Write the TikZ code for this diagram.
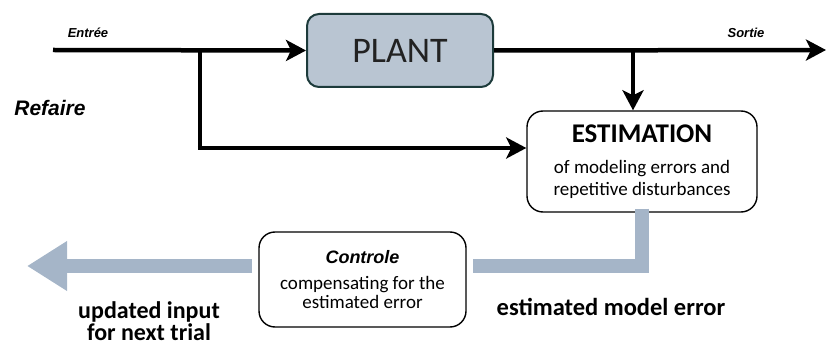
\documentclass[tikz,border=0pt]{standalone}
\usepackage{fontspec}
\setmainfont{Carlito}
\newfontfamily\arialf{Liberation Sans}
\usetikzlibrary{arrows.meta,calc}
\definecolor{plantfill}{HTML}{B9C5D2}
\definecolor{plantdraw}{HTML}{1D3B3B}
\definecolor{flowgray}{HTML}{A5B5C8}
\tikzset{
  blk/.style={line width=4.5pt,-{Stealth[length=20pt,width=21pt,inset=5pt]}},
  blkline/.style={line width=4.5pt},
  plantbox/.style={draw=plantdraw,fill=plantfill,line width=2pt,rounded corners=12pt,minimum width=186pt,minimum height=73pt,inner sep=0pt},
  rbox/.style={draw=black,line width=1.4pt,rounded corners=16pt,align=center,inner sep=0pt},
  gline/.style={draw=flowgray,line width=14pt,line cap=butt,line join=miter},
  tagf/.style={inner sep=0pt},
  lbl/.style={align=center,inner sep=0pt}
}
\begin{document}
\begin{tikzpicture}[x=1pt,y=-1pt]
\useasboundingbox (0,0) rectangle (826,347);
% nodes
\node[plantbox] (plant) at (400,50.5) {\fontsize{36}{40}\selectfont\color[HTML]{222222}PLANT};
\node[rbox,minimum width=230pt,minimum height=101pt,font=\fontsize{19}{22}\selectfont] (est) at (642,161.5)
  {{\fontsize{27}{28}\selectfont\bfseries ESTIMATION}\\[9pt]
   of modeling errors and\\
   repetitive disturbances};
\node[rbox,minimum width=207pt,minimum height=95pt,font=\fontsize{19}{18.5}\selectfont] (ctl) at (362.5,279.5)
  {{\arialf\bfseries\itshape\fontsize{18}{20}\selectfont Controle}\\[8pt]
   compensating for the\\
   estimated error};
% labels
\node[tagf,font=\arialf\bfseries\itshape\fontsize{13}{15}\selectfont] (entree) at (88,33) {Entrée};
\node[tagf,font=\arialf\bfseries\itshape\fontsize{13}{15}\selectfont] (sortie) at (746,33) {Sortie};
\node[tagf,font=\arialf\bfseries\itshape\fontsize{21}{24}\selectfont] (refaire) at (50,108) {Refaire};
\node[lbl,font=\bfseries\fontsize{24.5}{26}\selectfont] (eme) at (611,307) {estimated model error};
\node[lbl,font=\bfseries\fontsize{24}{22}\selectfont] (upd) at (149,321.5) {updated input\\for next trial};
% coordinates
\coordinate (in) at (53,50);
\coordinate (out) at (826,50);
\coordinate (b1) at (200,50);
\coordinate (b1e) at (200,148);
\coordinate (b2) at (633,50);
\coordinate (g) at (473,266);
\coordinate (ga) at (252,266);
\coordinate (gb) at (27,266);
% black connectors
\draw[blk] (in) -- (plant.west);
\draw[blk] (plant.east) -- (out);
\draw[blk] (b2) -- (b2 |- est.north);
\draw[blkline] ([yshift=-2.25pt]b1) -- (b1e);
\draw[blk] ([xshift=-2.25pt]b1e) -- (b1e -| est.west);
% gray flow
\draw[gline] ([yshift=4pt]est.south) |- (g);
\draw[gline,-{Triangle[length=40pt,width=47pt]}] (ga) -- (gb);
\end{tikzpicture}
\end{document}
